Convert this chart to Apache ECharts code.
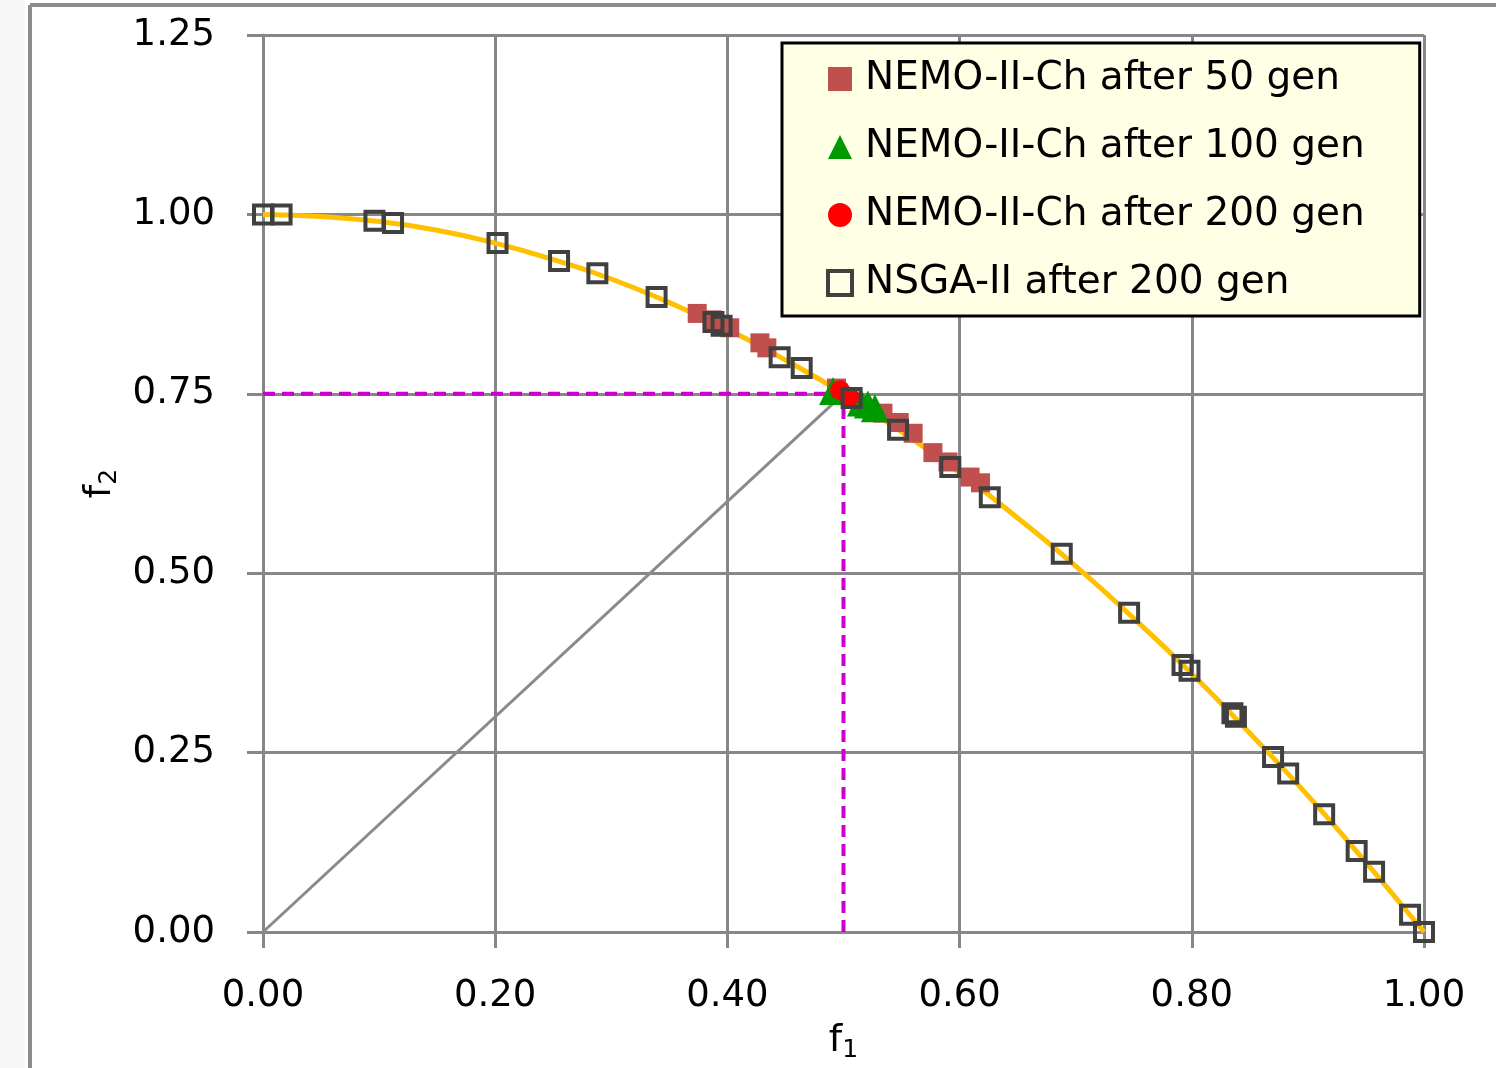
<!DOCTYPE html>
<html>
<head>
    <title>Pareto front f1 / f2</title>
    <script src="https://cdnjs.cloudflare.com/ajax/libs/echarts/6.0.0/echarts.min.js"></script>
    <style>
        html, body { margin: 0; padding: 0; background: #fff; }
        #chart_div { width: 1496px; height: 1068px; }
    </style>
</head>
<body>
    <div id="chart_div"></div>

    <script>
        // 真实前沿
        const frontCurve = [
            [0.00, 1.000], [0.05, 0.997], [0.10, 0.990], [0.15, 0.978], [0.20, 0.960],
            [0.25, 0.937], [0.30, 0.910], [0.35, 0.877], [0.40, 0.840], [0.45, 0.797],
            [0.50, 0.750], [0.55, 0.697], [0.60, 0.640], [0.65, 0.577], [0.70, 0.510],
            [0.75, 0.437], [0.80, 0.360], [0.85, 0.277], [0.90, 0.190], [0.95, 0.097],
            [1.00, 0.000]
        ];

        const nemo50 = [
            [0.374, 0.862], [0.387, 0.853], [0.402, 0.842], [0.428, 0.821], [0.434, 0.814],
            [0.494, 0.758], [0.534, 0.723], [0.548, 0.710], [0.560, 0.695], [0.577, 0.668],
            [0.590, 0.655], [0.609, 0.634], [0.618, 0.626]
        ];

        const nemo100 = [
            [0.491, 0.754], [0.515, 0.738], [0.521, 0.735], [0.527, 0.730]
        ];

        const nemo200 = [
            [0.497, 0.755], [0.505, 0.746]
        ];

        const nsga200 = [
            [0.000, 1.000], [0.016, 1.000], [0.096, 0.991], [0.112, 0.988], [0.202, 0.960],
            [0.255, 0.935], [0.288, 0.918], [0.339, 0.885], [0.388, 0.850], [0.395, 0.845],
            [0.445, 0.801], [0.464, 0.786], [0.507, 0.744], [0.547, 0.700], [0.592, 0.648],
            [0.626, 0.606], [0.688, 0.527], [0.746, 0.445], [0.792, 0.372], [0.798, 0.364],
            [0.835, 0.305], [0.838, 0.300], [0.870, 0.244], [0.883, 0.221], [0.914, 0.164],
            [0.942, 0.113], [0.957, 0.084], [0.988, 0.024], [1.000, 0.000]
        ];

        // 辅助线
        const hGuide = [[0, 0.75], [0.5, 0.75]];
        const vGuide = [[0.5, 0], [0.5, 0.75]];
        const ray = [[0, 0], [0.5, 0.75]];

        const xTicks = { min: 0, max: 1, interval: 0.2 };
        const yTicks = { min: 0, max: 1.25, interval: 0.25 };

        const fontFamily = '"DejaVu Sans", sans-serif';
        const gridGray = '#878787';

        const myChart = echarts.init(document.getElementById('chart_div'));

        const option = {
            backgroundColor: '#fff',
            animation: false,
            textStyle: { fontFamily: fontFamily },
            graphic: [
                { type: 'rect', shape: { x: 0, y: 0, width: 25, height: 1068 }, style: { fill: '#f7f7f7' }, z: -1 },
                { type: 'line', shape: { x1: 30, y1: 5, x2: 1496, y2: 5 }, style: { stroke: '#8c8c8c', lineWidth: 4 } },
                { type: 'line', shape: { x1: 30, y1: 5, x2: 30, y2: 1068 }, style: { stroke: '#8c8c8c', lineWidth: 4 } }
            ],
            grid: {
                left: 263,
                right: 72,
                top: 35,
                bottom: 136,
                outerBoundsMode: 'none'
            },
            legend: {
                orient: 'vertical',
                left: 782,
                top: 43,
                padding: [16, 55, 13, 44],
                backgroundColor: '#ffffe6',
                borderColor: '#000',
                borderWidth: 3,
                itemGap: 28,
                itemWidth: 24,
                itemHeight: 24,
                textStyle: { fontSize: 39, lineHeight: 40, color: '#000', fontFamily: fontFamily, padding: [0, 0, 0, 8] },
                data: [
                    { name: 'NEMO-II-Ch after 50 gen', icon: 'rect' },
                    { name: 'NEMO-II-Ch after 100 gen', icon: 'triangle' },
                    { name: 'NEMO-II-Ch after 200 gen', icon: 'circle' },
                    {
                        name: 'NSGA-II after 200 gen',
                        icon: 'rect',
                        itemStyle: { color: 'rgba(0,0,0,0)', borderColor: '#404040', borderWidth: 4 }
                    }
                ]
            },
            xAxis: {
                type: 'value',
                min: xTicks.min,
                max: xTicks.max,
                interval: xTicks.interval,
                name: 'f{sub|1}',
                nameLocation: 'middle',
                nameGap: 88,
                nameTextStyle: {
                    fontSize: 38,
                    color: '#000',
                    rich: { sub: { fontSize: 25, verticalAlign: 'bottom', padding: [18, 0, 0, 0] } }
                },
                axisLine: { show: true, lineStyle: { color: gridGray, width: 3 } },
                axisTick: { show: true, length: 16, lineStyle: { color: gridGray, width: 3 } },
                axisLabel: { fontSize: 37, color: '#000', margin: 46, formatter: v => v.toFixed(2) },
                splitLine: { show: true, lineStyle: { color: gridGray, width: 3 } }
            },
            yAxis: {
                type: 'value',
                min: yTicks.min,
                max: yTicks.max,
                interval: yTicks.interval,
                name: 'f{sub|2}',
                nameLocation: 'middle',
                nameGap: 140,
                nameTextStyle: {
                    fontSize: 38,
                    color: '#000',
                    rich: { sub: { fontSize: 25, verticalAlign: 'bottom', padding: [18, 0, 0, 0] } }
                },
                axisLine: { show: true, lineStyle: { color: gridGray, width: 3 } },
                axisTick: { show: true, length: 16, lineStyle: { color: gridGray, width: 3 } },
                axisLabel: { fontSize: 37, color: '#000', margin: 48, formatter: v => v.toFixed(2) },
                splitLine: { show: true, lineStyle: { color: gridGray, width: 3 } }
            },
            series: [
                {
                    name: 'front',
                    type: 'line',
                    data: frontCurve,
                    smooth: true,
                    showSymbol: false,
                    lineStyle: { color: '#ffc000', width: 5 },
                    z: 2
                },
                {
                    name: 'hGuide',
                    type: 'line',
                    data: hGuide,
                    showSymbol: false,
                    lineStyle: { color: '#cc00cc', width: 4, type: [12, 7] },
                    z: 3
                },
                {
                    name: 'vGuide',
                    type: 'line',
                    data: vGuide,
                    showSymbol: false,
                    lineStyle: { color: '#cc00cc', width: 4, type: [12, 7] },
                    z: 3
                },
                {
                    name: 'ray',
                    type: 'line',
                    data: ray,
                    showSymbol: false,
                    lineStyle: { color: '#8a8a8a', width: 3 },
                    z: 3
                },
                {
                    name: 'NEMO-II-Ch after 50 gen',
                    type: 'scatter',
                    data: nemo50,
                    symbol: 'rect',
                    symbolSize: 19,
                    itemStyle: { color: '#c0504d', opacity: 1 },
                    z: 4
                },
                {
                    name: 'NEMO-II-Ch after 100 gen',
                    type: 'scatter',
                    data: nemo100,
                    symbol: 'triangle',
                    symbolSize: 28,
                    itemStyle: { color: '#009900', opacity: 1 },
                    z: 5
                },
                {
                    name: 'NEMO-II-Ch after 200 gen',
                    type: 'scatter',
                    data: nemo200,
                    symbol: 'circle',
                    symbolSize: 20,
                    itemStyle: { color: '#ff0000', opacity: 1 },
                    z: 6
                },
                {
                    name: 'NSGA-II after 200 gen',
                    type: 'scatter',
                    data: nsga200,
                    symbol: 'rect',
                    symbolSize: 18,
                    itemStyle: { color: 'rgba(0,0,0,0)', borderColor: '#404040', borderWidth: 4, opacity: 1 },
                    z: 7
                }
            ]
        };

        myChart.setOption(option);
    </script>
</body>
</html>
